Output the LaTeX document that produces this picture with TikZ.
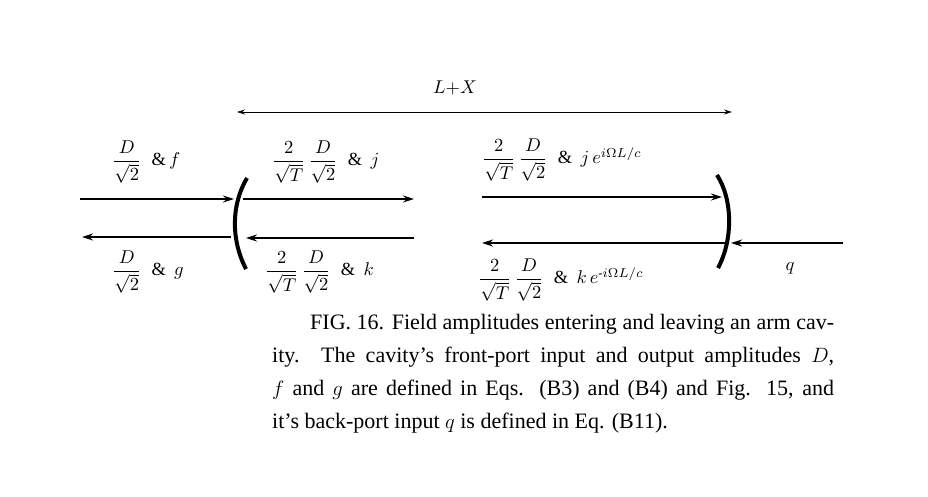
\documentclass[tikz,border=0pt]{standalone}
\usepackage{amsmath}
\usepackage{graphicx}
\usepackage{fontspec}
\setmainfont{Liberation Serif}
\usetikzlibrary{arrows.meta}
\newcommand{\bg}[1]{\scalebox{1.85}{#1}}
\begin{document}
\begin{tikzpicture}[x=1pt,y=-1pt,
  ar/.style={-{Stealth[length=11pt,width=7pt]},line width=1.3pt},
  mir/.style={line width=4pt},
  lbl/.style={inner sep=0pt}]
\useasboundingbox (0,0) rectangle (928,496);
\fill[white] (0,0) rectangle (928,496);
\coordinate (a1) at (80,199); \coordinate (a2) at (234,199);
\coordinate (b1) at (231,237); \coordinate (b2) at (82,237);
\coordinate (c1) at (243,199); \coordinate (c2) at (414,199);
\coordinate (d1) at (414,238); \coordinate (d2) at (246,238);
\coordinate (e1) at (482,197); \coordinate (e2) at (722,197);
\coordinate (f1) at (725,243); \coordinate (f2) at (482,243);
\coordinate (g1) at (843,243); \coordinate (g2) at (731,243);
\coordinate (h1) at (237,112); \coordinate (h2) at (732,112);
\draw[mir] (247,178) .. controls (231,205) and (231,240) .. (246,269);
\draw[mir] (717,175) .. controls (733,200) and (733,240) .. (718,268);
\draw[ar] (a1) -- (a2);
\draw[ar] (b1) -- (b2);
\draw[ar] (c1) -- (c2);
\draw[ar] (d1) -- (d2);
\draw[ar] (e1) -- (e2);
\draw[ar] (f1) -- (f2);
\draw[ar] (g1) -- (g2);
\draw[{Stealth[length=8pt,width=5pt]}-{Stealth[length=8pt,width=5pt]},line width=0.8pt] (h1) -- (h2);
\node[lbl] (lx) at (455,88) {\bg{$L{+}X$}};
\node[lbl,anchor=west] (l1) at (112,162) {\bg{$\dfrac{D}{\sqrt2}$\;\;$\&\,f$}};
\node[lbl,anchor=west] (l2) at (112,272) {\bg{$\dfrac{D}{\sqrt2}$\;\;$\&\;\,g$}};
\node[lbl,anchor=west] (l3) at (272,162) {\bg{$\dfrac{2}{\sqrt T}\,\dfrac{D}{\sqrt2}$\;\;$\&\;\,j$}};
\node[lbl,anchor=west] (l4) at (265,272) {\bg{$\dfrac{2}{\sqrt T}\,\dfrac{D}{\sqrt2}$\;\;$\&\;\,k$}};
\node[lbl,anchor=west] (l5) at (482,160) {\bg{$\dfrac{2}{\sqrt T}\,\dfrac{D}{\sqrt2}$\;\;$\&\;\,j\,e^{i\Omega L/c}$}};
\node[lbl,anchor=west] (l6) at (478,280) {\bg{$\dfrac{2}{\sqrt T}\,\dfrac{D}{\sqrt2}$\;\;$\&\;\,k\,e^{\textrm{-}i\Omega L/c}$}};
\node[lbl] (lq) at (790,268) {\bg{$q$}};
\node[anchor=north west,inner sep=0pt,text width=562pt,align=justify,
  font=\fontsize{22}{33}\selectfont] (cap) at (272,314)
  {\hspace*{38pt}FIG. 16. Field amplitudes entering and leaving an arm cav-\linebreak ity. The cavity's front-port input and output amplitudes $D$,\linebreak $f$ and $g$ are defined in Eqs. (B3) and (B4) and Fig. 15, and\linebreak it's back-port input $q$ is defined in Eq. (B11).};
\end{tikzpicture}
\end{document}
